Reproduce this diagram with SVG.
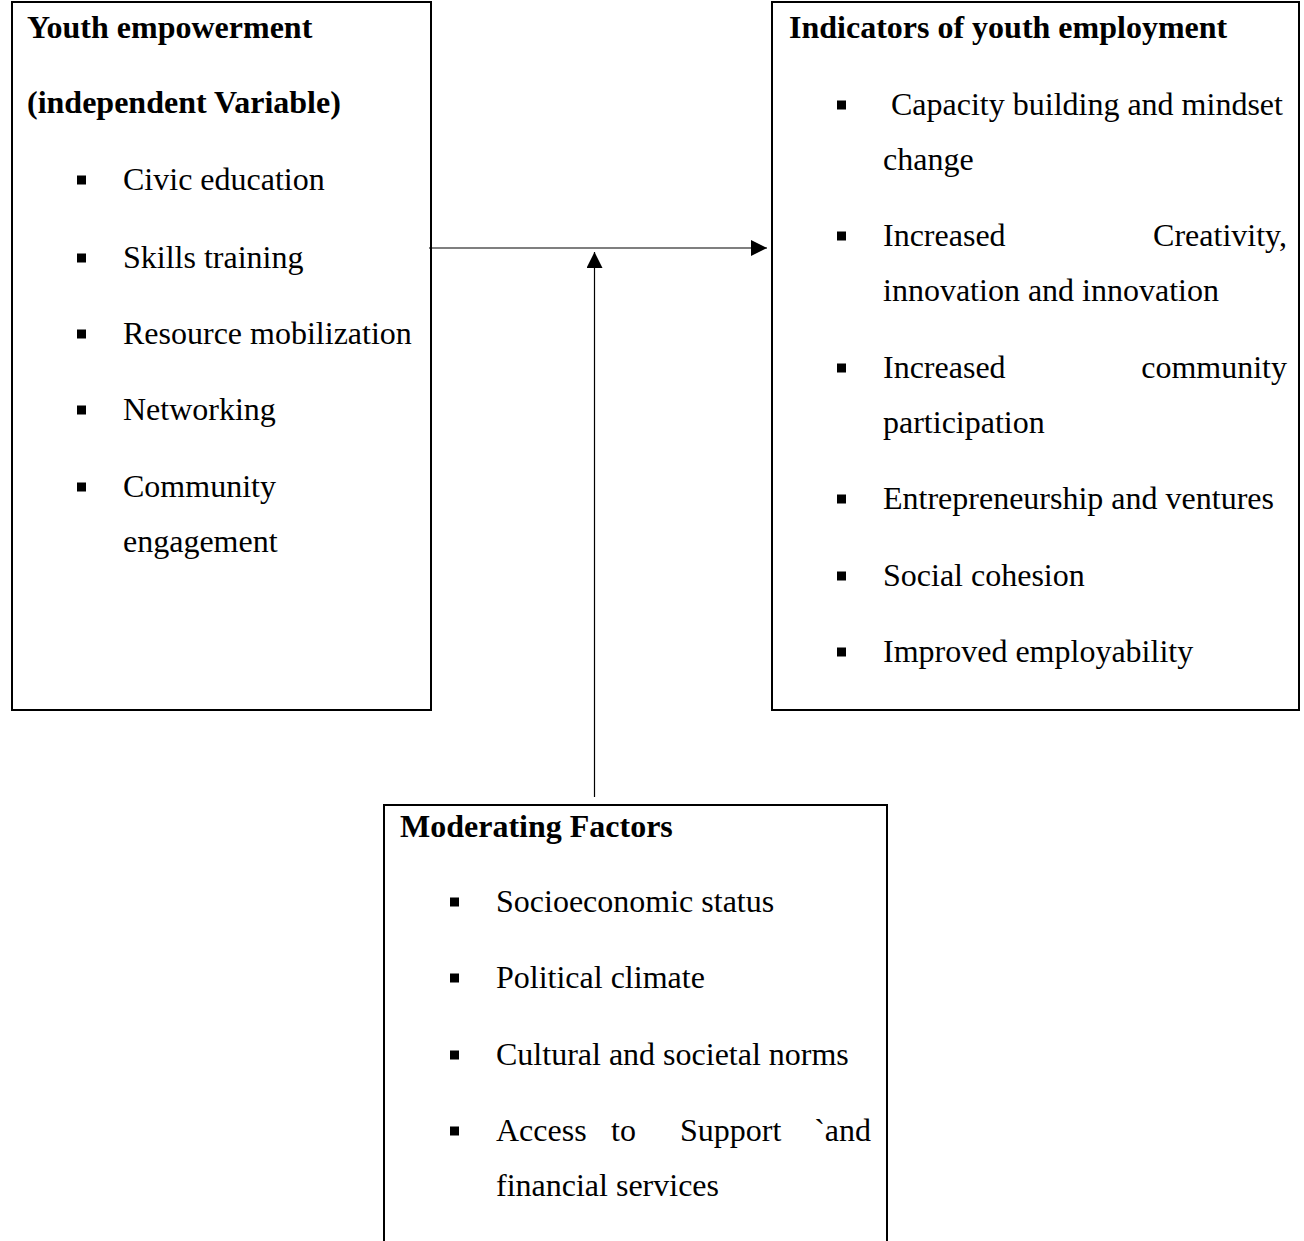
<svg xmlns="http://www.w3.org/2000/svg" width="1304" height="1241" viewBox="0 0 1304 1241">
  <style>
    .box { fill: #ffffff; stroke: #000000; stroke-width: 2; }
    .t { font-family: "Liberation Serif", "Times New Roman", serif; font-size: 32px; fill: #000000; }
    .b { font-weight: bold; }
    .bul { fill: #000000; }
    .conn { stroke: #000000; stroke-width: 1.2; fill: none; }
  </style>
  <defs>
    <marker id="arrow" viewBox="0 0 16 16" refX="16" refY="8" markerWidth="16" markerHeight="16" markerUnits="userSpaceOnUse" orient="auto">
      <path d="M0,0 L16,8 L0,16 z" fill="#000000"/>
    </marker>
  </defs>
  <rect width="1304" height="1241" fill="#ffffff"/>

  <g id="node-youth-empowerment">
    <rect class="box" x="12" y="2" width="419" height="708"/>
    <text class="t b" x="27" y="37.5">Youth empowerment</text>
    <text class="t b" x="27" y="113">(independent Variable)</text>
    <rect class="bul" x="77" y="175.5" width="9" height="9"/>
    <text class="t" x="123" y="190">Civic education</text>
    <rect class="bul" x="77" y="253.5" width="9" height="9"/>
    <text class="t" x="123" y="268">Skills training</text>
    <rect class="bul" x="77" y="329.5" width="9" height="9"/>
    <text class="t" x="123" y="344">Resource mobilization</text>
    <rect class="bul" x="77" y="405.5" width="9" height="9"/>
    <text class="t" x="123" y="420">Networking</text>
    <rect class="bul" x="77" y="482.5" width="9" height="9"/>
    <text class="t" x="123" y="497">Community</text>
    <text class="t" x="123" y="552">engagement</text>
  </g>

  <g id="node-indicators">
    <rect class="box" x="772" y="2" width="527" height="708"/>
    <text class="t b" x="789" y="37.5">Indicators of youth employment</text>
    <rect class="bul" x="837" y="100.5" width="9" height="9"/>
    <text class="t" x="891" y="115">Capacity building and mindset</text>
    <text class="t" x="883" y="170">change</text>
    <rect class="bul" x="837" y="231.5" width="9" height="9"/>
    <text class="t" x="883" y="246">Increased</text>
    <text class="t" x="1287" y="246" text-anchor="end">Creativity,</text>
    <text class="t" x="883" y="301">innovation and innovation</text>
    <rect class="bul" x="837" y="363.5" width="9" height="9"/>
    <text class="t" x="883" y="378">Increased</text>
    <text class="t" x="1287" y="378" text-anchor="end">community</text>
    <text class="t" x="883" y="433">participation</text>
    <rect class="bul" x="837" y="494.5" width="9" height="9"/>
    <text class="t" x="883" y="509">Entrepreneurship and ventures</text>
    <rect class="bul" x="837" y="571.5" width="9" height="9"/>
    <text class="t" x="883" y="586">Social cohesion</text>
    <rect class="bul" x="837" y="647.5" width="9" height="9"/>
    <text class="t" x="883" y="662">Improved employability</text>
  </g>

  <g id="node-moderating">
    <rect class="box" x="384" y="805" width="503" height="460"/>
    <text class="t b" x="400" y="837">Moderating Factors</text>
    <rect class="bul" x="450" y="897.5" width="9" height="9"/>
    <text class="t" x="496" y="912">Socioeconomic status</text>
    <rect class="bul" x="450" y="973.5" width="9" height="9"/>
    <text class="t" x="496" y="988">Political climate</text>
    <rect class="bul" x="450" y="1050.5" width="9" height="9"/>
    <text class="t" x="496" y="1065">Cultural and societal norms</text>
    <rect class="bul" x="450" y="1126.5" width="9" height="9"/>
    <text class="t" x="496" y="1141">Access</text>
    <text class="t" x="611" y="1141">to</text>
    <text class="t" x="680" y="1141">Support</text>
    <text class="t" x="871" y="1141" text-anchor="end">`and</text>
    <text class="t" x="496" y="1196">financial services</text>
  </g>

  <g id="connectors">
    <line class="conn" x1="429" y1="248" x2="767" y2="248" marker-end="url(#arrow)"/>
    <line class="conn" x1="594.5" y1="797" x2="594.5" y2="252" marker-end="url(#arrow)"/>
  </g>
</svg>
